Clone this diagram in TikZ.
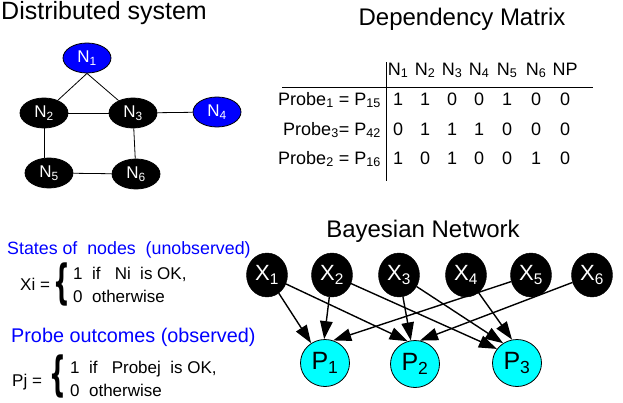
\documentclass[tikz,border=0pt]{standalone}
\usepackage{fontspec}
\usepackage{graphicx}
\setmainfont{Liberation Sans}
\newfontfamily\bracefont{DejaVu Sans}
\usetikzlibrary{arrows.meta,shapes.geometric}
\newcommand\lsub[1]{\textsubscript{#1}}
\newcommand\bigbrace{\scalebox{0.5}[1]{\bracefont\bfseries\fontsize{47}{47}\selectfont\{}}
\definecolor{nodeblue}{HTML}{0000FF}
\definecolor{probecyan}{HTML}{00FFFF}

\begin{document}
\begin{tikzpicture}[x=1pt,y=-1pt,
  title/.style={font=\fontsize{24}{24}\selectfont, inner sep=0pt},
  netnode/.style={ellipse, draw=black, line width=0.8pt, minimum width=48pt,
    minimum height=30pt, inner sep=0pt, text=white, font=\fontsize{17}{17}\selectfont},
  downnode/.style={netnode, fill=black},
  upnode/.style={netnode, fill=nodeblue},
  link/.style={line width=0.8pt},
  cell/.style={font=\fontsize{18}{18}\selectfont, anchor=base, inner sep=0pt},
  tablerule/.style={line width=0.9pt},
  bluetext/.style={text=nodeblue, inner sep=0pt},
  eqn/.style={font=\fontsize{17}{17}\selectfont, inner sep=0pt},
  bracenode/.style={inner sep=0pt},
  xnode/.style={ellipse, fill=black, draw=black, text=white, minimum width=41pt,
    minimum height=44pt, inner sep=0pt, font=\fontsize{22}{22}\selectfont},
  pnode/.style={ellipse, fill=probecyan, draw=black, line width=0.8pt, minimum width=49pt,
    minimum height=47pt, inner sep=0pt, font=\fontsize{25}{25}\selectfont},
  dep/.style={line width=1.4pt, -{Triangle[length=18pt,width=12.5pt]}},
]
\useasboundingbox (0,0) rectangle (623,402);

% ---------- distributed system ----------
\node[title, font=\fontsize{25}{25}\selectfont, anchor=base west] (dstitle) at (1,19) {Distributed system};
\node[upnode]   (N1) at (87,58)   {N\lsub{1}};
\node[downnode] (N2) at (44,113)  {N\lsub{2}};
\node[downnode] (N3) at (133,113) {N\lsub{3}};
\node[upnode]   (N4) at (217,112) {N\lsub{4}};
\node[downnode] (N5) at (49,173)  {N\lsub{5}};
\node[downnode] (N6) at (136,174) {N\lsub{6}};
\draw[link] (N1.south) -- (N2);
\draw[link] (N1.south) -- (N3);
\draw[link] (N2) -- (N3);
\draw[link] (N3) -- (N4);
\draw[link] (N2.south) -- (N2.south |- N5.north);
\draw[link] (N3) -- (N6);
\draw[link] (N5) -- (N6);

% ---------- dependency matrix ----------
\node[title, anchor=base] (dmtitle) at (462,25) {Dependency Matrix};
\draw[tablerule] (386,62) -- (386,181);
\draw[tablerule] (282,87) -- (593,87);
\foreach \lab/\x [count=\c] in {N\lsub{1}/398,N\lsub{2}/425,N\lsub{3}/452,N\lsub{4}/479,
    N\lsub{5}/507,N\lsub{6}/536,NP/565}
  \node[cell] (h\c) at (\x,75) {\lab};
\node[cell, anchor=base east] (r1) at (381,105) {Probe\lsub{1} = P\lsub{15}};
\node[cell, anchor=base east] (r2) at (381,135) {Probe\lsub{3}= P\lsub{42}};
\node[cell, anchor=base east] (r3) at (381,164) {Probe\lsub{2} = P\lsub{16}};
\foreach \vals [count=\r] in {{1,1,0,0,1,0,0},{0,1,1,1,0,0,0},{1,0,1,0,0,1,0}}
  \foreach \v [count=\c] in \vals {
    \pgfmathsetmacro\cx{{398,425,452,479,507,536,565}[\c-1]}
    \pgfmathsetmacro\ry{{105,135,164}[\r-1]}
    \node[cell] (m-\r-\c) at (\cx,\ry) {\v};
  }

% ---------- variable definitions ----------
\node[bluetext, font=\fontsize{17.8}{17.8}\selectfont, anchor=base west] (xhead) at (7,254)
  {States of\ \ nodes\ \ (unobserved)};
\node[eqn, anchor=base west] (xlhs) at (20,290) {Xi =};
\node[bracenode] (xbrace) at (62,284) {\bigbrace};
\node[eqn, anchor=base west] (xone) at (73,279) {1\ \ if\ \ \ Ni\ \ is OK,};
\node[eqn, anchor=base west] (xzero) at (73,302) {0\ \ otherwise};

\node[bluetext, font=\fontsize{19.8}{19.8}\selectfont, anchor=base west] (phead) at (11,342)
  {Probe outcomes (observed)};
\node[eqn, anchor=base west] (plhs) at (12,386) {Pj =};
\node[bracenode] (pbrace) at (58,376) {\bigbrace};
\node[eqn, anchor=base west] (pone) at (70,373) {1\ \ if\ \ \ Probej\ \ is OK,};
\node[eqn, anchor=base west] (pzero) at (70,396) {0\ \ otherwise};

% ---------- Bayesian network ----------
\node[title, anchor=base] (bntitle) at (423,237) {Bayesian Network};
\foreach \x [count=\i] in {267,332,399,466,531,592}
  \node[xnode] (X\i) at (\x,275) {X\lsub{\i}};
\node[pnode] (P1) at (325,363) {P\lsub{1}};
\node[pnode] (P2) at (415,364) {P\lsub{2}};
\node[pnode] (P3) at (517,363) {P\lsub{3}};
\draw[dep] (X1) -- (P1.125);
\draw[dep] (X1) -- (P2.108);
\draw[dep] (X2) -- (P1.92);
\draw[dep] (X2) -- (P3.145);
\draw[dep] (X3) -- (P2.100);
\draw[dep] (X3) -- (P3.125);
\draw[dep] (X4) -- (P3.102);
\draw[dep] (X5) -- (P1.70);
\draw[dep] (X6) -- (P2.78);
\end{tikzpicture}
\end{document}
